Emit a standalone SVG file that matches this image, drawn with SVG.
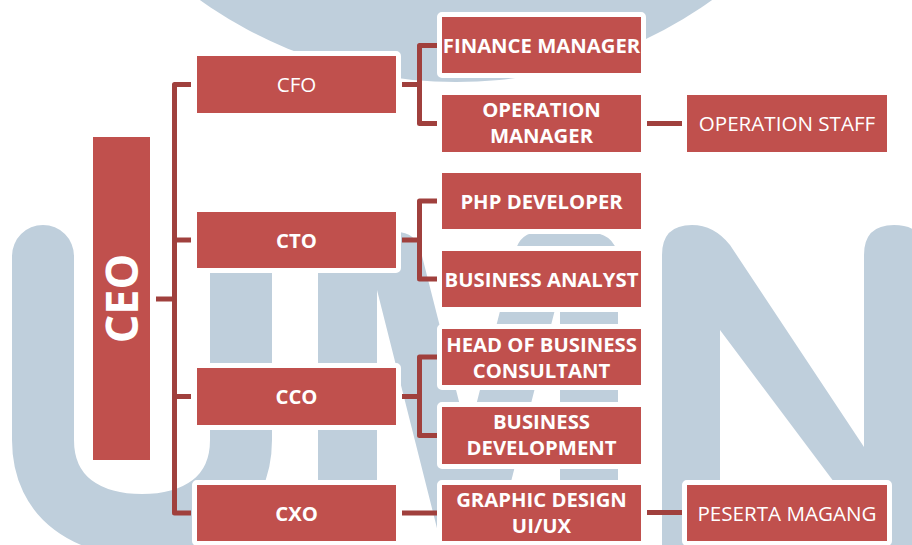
<svg xmlns="http://www.w3.org/2000/svg" width="912" height="545" viewBox="0 0 912 545">
<style>
.wm{fill:#BFCFDC}
.box{fill:#C0504D;stroke:#FFFFFF;stroke-width:10;paint-order:stroke;stroke-linejoin:round}
.t{font-family:"Open Sans","Liberation Sans",sans-serif;fill:#FFFFFF;text-anchor:middle;font-size:20.6px}
.b{font-weight:bold;font-size:20.3px}
.con{fill:none;stroke:#A0403D;stroke-width:5;stroke-linejoin:round}
</style>
<rect width="912" height="545" fill="#FFFFFF"/>
<g id="watermark">
<circle class="wm" cx="456" cy="-359" r="441"/>
<path d="M43,256 V440 C43,500 90,525 142,525 C194,525 241,500 241,440 V250" fill="none" stroke="#BFCFDC" stroke-width="62" stroke-linecap="round"/>
<path class="wm" d="M318,560 L318,262 Q318,232 350,232 L396,232 Q416,232 421,252 L468,437 L515,252 Q520,232 540,232 L586,232 Q618,232 618,262 L618,560 L560,560 L560,290 L491,560 L445,560 L377,290 L377,560 Z"/>
<path class="wm" d="M662,560 L662,255 Q662,225 692,225 Q714,225 730,245 L864,447 L864,255 Q864,225 894,225 Q925,225 925,255 L925,560 L864,560 L864,522 L720,330 L720,560 Z"/>
</g>
<g id="connectors">
<path class="con" d="M156,299 H174.5"/>
<path class="con" d="M191,84.5 H174.5 V513 H191"/>
<path class="con" d="M174.5,240 H191"/>
<path class="con" d="M174.5,396.5 H191"/>
<path class="con" d="M402,84.5 H419.5"/>
<path class="con" d="M437,45.5 H419.5 V123.5 H437"/>
<path class="con" d="M402,240 H419.5"/>
<path class="con" d="M437,201 H419.5 V279 H437"/>
<path class="con" d="M402,396.5 H419.5"/>
<path class="con" d="M437,357 H419.5 V435.5 H437"/>
<path class="con" d="M402,513 H437"/>
<path class="con" d="M647,123.5 H682"/>
<path class="con" d="M647,512.5 H682"/>
</g>
<g id="ceo"><rect class="box" x="93" y="137" width="57" height="323"/><text class="t b" style="font-size:45px" transform="translate(121.5,298.5) rotate(-90)" x="0" y="16">CEO</text></g>
<g id="cfo"><rect class="box" x="197" y="56" width="199" height="57"/><text class="t" x="296.5" y="92">CFO</text></g>
<g id="cto"><rect class="box" x="197" y="212" width="199" height="56"/><text class="t b" x="296.5" y="247.5">CTO</text></g>
<g id="cco"><rect class="box" x="197" y="368" width="199" height="57"/><text class="t b" x="296.5" y="404">CCO</text></g>
<g id="cxo"><rect class="box" x="197" y="485" width="199" height="56"/><text class="t b" x="296.5" y="520.5">CXO</text></g>
<g id="finance-manager"><rect class="box" x="442" y="17" width="199" height="56"/><text class="t b" x="541.5" y="52.5">FINANCE MANAGER</text></g>
<g id="operation-manager"><rect class="box" x="442" y="95" width="199" height="57"/><text class="t b" x="541.5" y="117">OPERATION</text><text class="t b" x="541.5" y="143">MANAGER</text></g>
<g id="php-developer"><rect class="box" x="442" y="173" width="199" height="56"/><text class="t b" x="541.5" y="208.5">PHP DEVELOPER</text></g>
<g id="business-analyst"><rect class="box" x="442" y="251" width="199" height="56"/><text class="t b" x="541.5" y="286.5">BUSINESS ANALYST</text></g>
<g id="head-of-business-consultant"><rect class="box" x="442" y="329" width="199" height="56"/><text class="t b" x="541.5" y="352">HEAD OF BUSINESS</text><text class="t b" x="541.5" y="377.5">CONSULTANT</text></g>
<g id="business-development"><rect class="box" x="442" y="407" width="199" height="57"/><text class="t b" x="541.5" y="429">BUSINESS</text><text class="t b" x="541.5" y="455">DEVELOPMENT</text></g>
<g id="graphic-design"><rect class="box" x="442" y="485" width="199" height="56"/><text class="t b" x="541.5" y="507">GRAPHIC DESIGN</text><text class="t b" x="541.5" y="533">UI/UX</text></g>
<g id="operation-staff"><rect class="box" x="687" y="95" width="200" height="57"/><text class="t" x="787" y="131">OPERATION STAFF</text></g>
<g id="peserta-magang"><rect class="box" x="687" y="485" width="200" height="56"/><text class="t" x="787" y="520.5">PESERTA MAGANG</text></g>
</svg>
